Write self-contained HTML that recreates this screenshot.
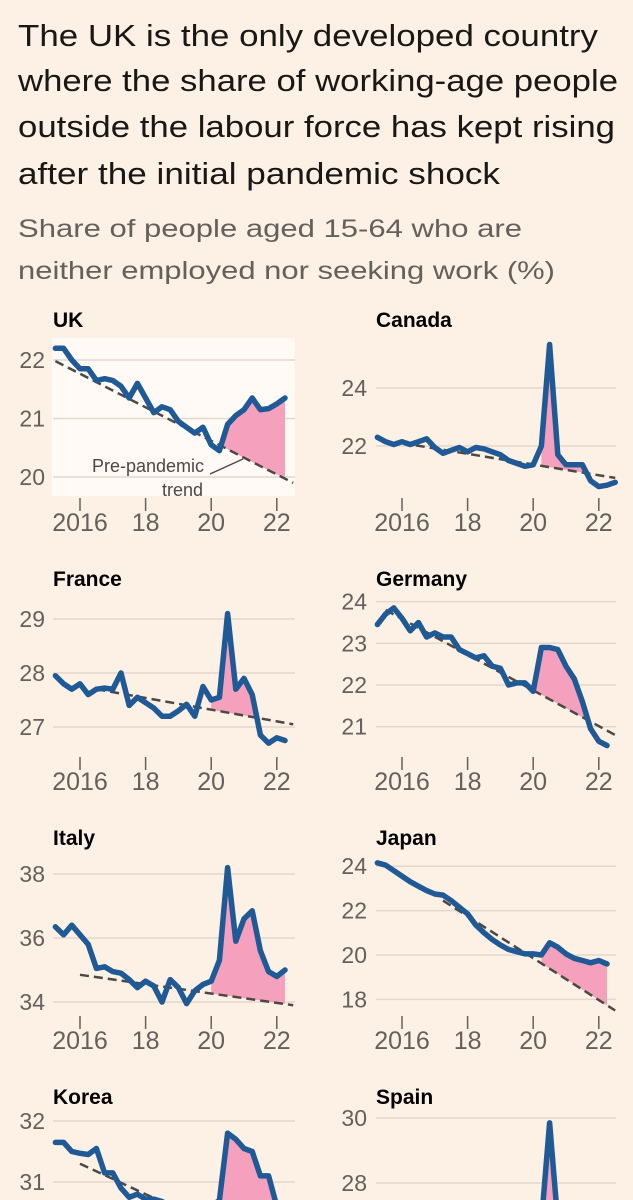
<!DOCTYPE html>
<html><head><meta charset="utf-8">
<style>
html,body{margin:0;padding:0;background:#fdf1e6;width:633px;height:1200px;overflow:hidden;}
svg{display:block;font-family:"Liberation Sans",sans-serif;}
</style></head>
<body>
<svg id="chart" width="633" height="1200" viewBox="0 0 633 1200" xmlns="http://www.w3.org/2000/svg" overflow="hidden">
<rect width="633" height="1200" fill="#fdf1e6"/>
<g fill="#1a1817" font-size="31">
<text x="18" y="46" textLength="580" lengthAdjust="spacingAndGlyphs">The UK is the only developed country</text>
<text x="18" y="91" textLength="600" lengthAdjust="spacingAndGlyphs">where the share of working-age people</text>
<text x="18" y="137" textLength="597" lengthAdjust="spacingAndGlyphs">outside the labour force has kept rising</text>
<text x="18" y="184" textLength="482" lengthAdjust="spacingAndGlyphs">after the initial pandemic shock</text>
</g>
<g fill="#66605c" font-size="25">
<text x="18" y="237" textLength="504" lengthAdjust="spacingAndGlyphs">Share of people aged 15-64 who are</text>
<text x="18" y="279" textLength="537" lengthAdjust="spacingAndGlyphs">neither employed nor seeking work (%)</text>
</g>
<g id="panels"></g>
</svg>
<script>
// ---- data (quarterly, starting 2015 Q2) ----
const startYear = 2015.25;
const yearTicks = [2016, 2018, 2020, 2022];
const yearTickLabels = ["2016", "18", "20", "22"];
const countries = ["UK", "Canada", "France", "Germany", "Italy", "Japan", "Korea", "Spain"];

const ukValues = [22.2,22.2,22.0,21.85,21.85,21.65,21.68,21.65,21.55,21.35,21.6,21.35,21.1,21.2,21.15,20.95,20.85,20.75,20.85,20.55,20.45,20.9,21.05,21.15,21.35,21.15,21.17,21.25,21.35];
const canadaValues = [22.3,22.15,22.05,22.15,22.05,22.15,22.25,21.95,21.75,21.85,21.95,21.8,21.95,21.9,21.8,21.7,21.5,21.4,21.3,21.35,22.0,25.5,21.7,21.35,21.35,21.35,20.8,20.6,20.65,20.75];
const franceValues = [27.95,27.8,27.7,27.8,27.6,27.7,27.72,27.7,28.0,27.4,27.55,27.45,27.35,27.2,27.2,27.3,27.42,27.2,27.75,27.5,27.55,29.1,27.7,27.9,27.6,26.85,26.7,26.8,26.75];
const germanyValues = [23.45,23.7,23.85,23.6,23.3,23.5,23.15,23.25,23.15,23.15,22.85,22.75,22.65,22.7,22.45,22.4,22.0,22.05,22.05,21.85,22.9,22.9,22.85,22.45,22.15,21.6,20.95,20.65,20.55];
const italyValues = [36.35,36.1,36.4,36.1,35.8,35.05,35.1,34.95,34.9,34.7,34.45,34.65,34.5,34.0,34.7,34.45,33.95,34.35,34.55,34.65,35.3,38.2,35.9,36.6,36.85,35.6,34.95,34.8,35.0];
const japanValues = [24.15,24.05,23.8,23.55,23.3,23.1,22.9,22.75,22.7,22.45,22.15,21.85,21.35,21.0,20.7,20.45,20.25,20.15,20.05,20.05,20.0,20.55,20.35,20.05,19.85,19.75,19.65,19.75,19.6];
const koreaValues = [31.65,31.65,31.5,31.47,31.45,31.55,31.15,31.15,30.9,30.75,30.8,30.72,30.72,30.68,30.6,30.5,30.5,30.5,30.5,30.6,30.7,31.8,31.7,31.55,31.5,31.1,31.1,30.6,30.3];
const spainValues = [27.0,27.0,26.9,26.9,26.8,26.8,26.8,26.7,26.7,26.7,26.6,26.6,26.6,26.6,26.5,26.5,26.5,26.5,26.5,26.5,26.8,29.85,26.8,26.9,26.8,26.7,26.6,26.5,26.5];

// trend lines: [startYear, startValue], [endYear, endValue]
const ukTrend = [[2015.25, 21.98], [2022.5, 19.9]];
const canadaTrend = [[2016.0, 22.1], [2022.5, 20.9]];
const franceTrend = [[2016.5, 27.7], [2022.5, 27.05]];
const germanyTrend = [[2015.5, 23.8], [2022.5, 20.8]];
const italyTrend = [[2016.0, 34.85], [2022.5, 33.9]];
const japanTrend = [[2017.25, 22.45], [2022.5, 17.5]];
const koreaTrend = [[2016.0, 31.3], [2019.0, 30.55]];
const spainTrend = [[2016.0, 26.9], [2022.5, 26.4]];

const shadeFrom = [2020.25, 2020.25, 2020.0, 2020.0, 2020.0, 2020.25, 2020.25, 2020.25];

const ukTicks = [20, 21, 22];
const canadaTicks = [22, 24];
const franceTicks = [27, 28, 29];
const germanyTicks = [21, 22, 23, 24];
const italyTicks = [34, 36, 38];
const japanTicks = [18, 20, 22, 24];
const koreaTicks = [31, 32];
const spainTicks = [28, 30];

const seriesList = [ukValues, canadaValues, franceValues, germanyValues, italyValues, japanValues, koreaValues, spainValues];
const trendList = [ukTrend, canadaTrend, franceTrend, germanyTrend, italyTrend, japanTrend, koreaTrend, spainTrend];
const tickList = [ukTicks, canadaTicks, franceTicks, germanyTicks, italyTicks, japanTicks, koreaTicks, spainTicks];

// ---- layout (not data) ----
const layout = [
  {col:0,row:0,v0:22,y0:360,k:58.5},
  {col:1,row:0,v0:22,y0:446,k:29},
  {col:0,row:1,v0:28,y0:673,k:54},
  {col:1,row:1,v0:22,y0:685,k:41.7},
  {col:0,row:2,v0:34,y0:1002,k:32},
  {col:1,row:2,v0:20,y0:955,k:22.2},
  {col:0,row:3,v0:32,y0:1121,k:61},
  {col:1,row:3,v0:30,y0:1118,k:32.5}
];
const NS = "http://www.w3.org/2000/svg";
const root = document.getElementById("panels");
function mk(tag, attrs, parent){const e=document.createElementNS(NS,tag);for(const k in attrs)e.setAttribute(k,attrs[k]);(parent||root).appendChild(e);return e;}

countries.forEach((name, p) => {
  const L = layout[p];
  const xOff = L.col ? 322 : 0;
  const rowY = L.row * 259;
  const xs = t => xOff + 80 + (t - 2016) * 32.8;
  const ys = v => L.y0 - (v - L.v0) * L.k;
  const g = mk("g", {});
  
  
  const gx0 = L.col ? 376 : 53, gx1 = L.col ? 616 : 295;
  if (p === 0) {
    const bg = mk("rect", {x:52, y:338, width:243, height:158, fill:"#fffaf5"}, g);
    
    
  }
  const title = mk("text", {x: gx0, y: 327 + rowY, "font-size": 21, "font-weight": "bold", fill: "#000"}, g);
  title.textContent = name;
  
  
  tickList[p].forEach(v => {
    const gl = mk("line", {x1: gx0, x2: gx1, y1: ys(v), y2: ys(v), stroke: "#e3d8ce", "stroke-width": 1.5}, g);
    
    
    const tl = mk("text", {x: L.col ? 367 : 45, y: ys(v) + 8, "text-anchor": "end", "font-size": 23, fill: "#66605c"}, g);
    tl.textContent = v;
    
    
  });
  yearTicks.forEach((yr, i) => {
    const ty = 498 + rowY;
    const tk = mk("line", {x1: xs(yr), x2: xs(yr), y1: ty, y2: ty + 13, stroke: "#66605c", "stroke-width": 1.5}, g);
    
    
    const lb = mk("text", {x: xs(yr), y: 531 + rowY, "text-anchor": "middle", "font-size": 25, fill: "#66605c"}, g);
    lb.textContent = yearTickLabels[i];
    
    
  });
  const vals = seriesList[p];
  const tr = trendList[p];
  const trendAt = t => tr[0][1] + (tr[1][1] - tr[0][1]) * (t - tr[0][0]) / (tr[1][0] - tr[0][0]);
  const top = [], bot = [];
  vals.forEach((v, i) => {
    const t = startYear + i * 0.25;
    if (t < shadeFrom[p] - 1e-6) return;
    if (top.length) {
      const tp = t - 0.25, vp = vals[i-1];
      const dp = vp - trendAt(tp), d = v - trendAt(t);
      if (dp * d < 0) {
        const tc = tp + 0.25 * dp / (dp - d);
        top.push([xs(tc), ys(trendAt(tc))]); bot.push([xs(tc), ys(trendAt(tc))]);
      }
    }
    const tv = trendAt(t);
    top.push([xs(t), ys(Math.max(v, tv))]); bot.push([xs(t), ys(tv)]);
  });
  const poly = top.concat(bot.reverse()).map(q => q[0].toFixed(1) + "," + q[1].toFixed(1)).join(" ");
  const sh = mk("polygon", {points: poly, fill: "#f5a1bd"}, g);
  
  
  const tl = mk("line", {x1: xs(tr[0][0]), y1: ys(tr[0][1]), x2: xs(tr[1][0]), y2: ys(tr[1][1]), stroke: "#4d4845", "stroke-width": 2.5, "stroke-dasharray": "9 5"}, g);
  
  
  const d = vals.map((v, i) => (i ? "L" : "M") + xs(startYear + i * 0.25).toFixed(1) + "," + ys(v).toFixed(1)).join(" ");
  const ln = mk("path", {d: d, fill: "none", stroke: "#1f5a96", "stroke-width": 5.5, "stroke-linejoin": "round", "stroke-linecap": "round"}, g);
  
  
  if (p === 0) {
    const al = mk("line", {x1: 210, y1: 474, x2: 243, y2: 459, stroke: "#4d4845", "stroke-width": 1.5}, g);
    
    
    const a1 = mk("text", {x: 204, y: 472, "text-anchor": "end", "font-size": 18, fill: "#4d4845"}, g);
    a1.textContent = "Pre-pandemic";
    
    
    const a2 = mk("text", {x: 203, y: 496, "text-anchor": "end", "font-size": 18, fill: "#4d4845"}, g);
    a2.textContent = "trend";
    
    
  }
});
</script>
</body></html>
